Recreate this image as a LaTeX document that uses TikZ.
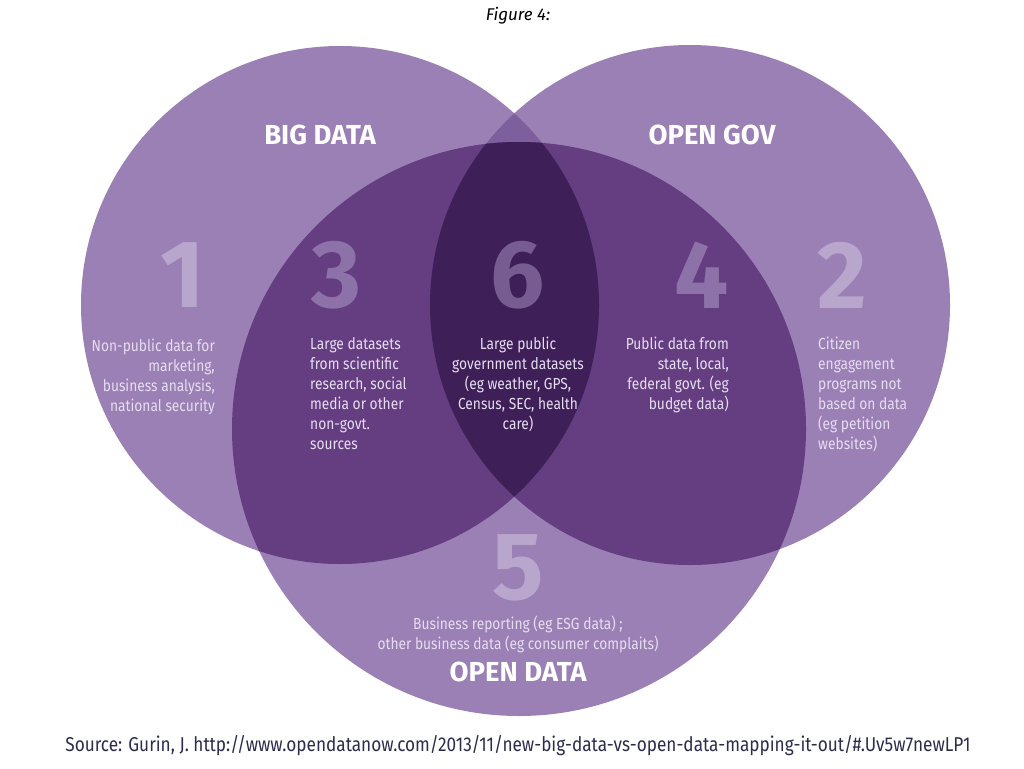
\documentclass[tikz,border=0pt]{standalone}
\usepackage{fontspec}
\usepackage{xcolor}
\usepackage{tikz}
\usetikzlibrary{positioning}
\setmainfont{Fira Sans}
\newfontfamily\condfont{Fira Sans}[FakeStretch=0.86]

\definecolor{vennbase}{HTML}{9B80B5}
\definecolor{vennlens}{HTML}{7E5F9D}
\definecolor{venndouble}{HTML}{643E80}
\definecolor{venntriple}{HTML}{3E1F58}
\definecolor{numlight}{HTML}{B9A6CD}
\definecolor{nummid}{HTML}{8D72A9}
\definecolor{numdark}{HTML}{765C90}
\definecolor{blurbtext}{HTML}{E6DDF0}
\definecolor{sourcetext}{HTML}{2E2C4E}

\tikzset{
  bignum/.style={inner sep=0pt, font=\fontsize{96}{96}\selectfont\bfseries},
  circletitle/.style={text=white, inner sep=0pt, font=\fontsize{27.5}{27.5}\selectfont\bfseries},
  blurb/.style={text=blurbtext, inner sep=0pt, font=\condfont\fontsize{16}{20}\selectfont}
}

\begin{document}
\begin{tikzpicture}[x=1pt, y=-1pt]
  \useasboundingbox[fill=white] (0,0) rectangle (1024,768);
  \coordinate (bigc) at (340,305);
  \coordinate (govc) at (690,305);
  \coordinate (openc) at (519,429);

  \fill[vennbase] (bigc) circle (259pt);
  \fill[vennbase] (govc) circle (260pt);
  \fill[vennbase] (openc) circle (287pt);
  \begin{scope}
    \clip (bigc) circle (259pt);
    \fill[vennlens] (govc) circle (260pt);
  \end{scope}
  \begin{scope}
    \clip (openc) circle (287pt);
    \fill[venndouble] (bigc) circle (259pt);
    \fill[venndouble] (govc) circle (260pt);
    \clip (bigc) circle (259pt);
    \fill[venntriple] (govc) circle (260pt);
  \end{scope}

  \node[font=\fontsize{17}{17}\selectfont\itshape] (fig) at (518,16) {Figure 4:};

  \node[circletitle] (bigtitle) at (320,135) {BIG DATA};
  \node[circletitle] (govtitle) at (712,135) {OPEN GOV};
  \node[circletitle] (opentitle) at (518,672) {OPEN DATA};

  \node[bignum, text=numlight] (n1) at (183,275) {1};
  \node[bignum, text=nummid] (n3) at (336,275) {3};
  \node[bignum, text=numdark] (n6) at (518,275) {6};
  \node[bignum, text=nummid] (n4) at (702,275) {4};
  \node[bignum, text=numlight] (n2) at (842,275) {2};
  \node[bignum, text=numlight] (n5) at (518,568) {5};

  \node[blurb, anchor=north east, align=right] (t1) at (215,339)
    {Non-public data for\\marketing,\\business analysis,\\national security};
  \node[blurb, anchor=north west, align=left] (t3) at (310,337)
    {Large datasets\\from scientific\\research, social\\media or other\\non-govt.\\sources};
  \node[blurb, anchor=north, align=center] (t6) at (518,337)
    {Large public\\government datasets\\(eg weather, GPS,\\Census, SEC, health\\care)};
  \node[blurb, anchor=north east, align=right] (t4) at (729,337)
    {Public data from\\state, local,\\federal govt. (eg\\budget data)};
  \node[blurb, anchor=north west, align=left] (t2) at (818,337)
    {Citizen\\engagement\\programs not\\based on data\\(eg petition\\websites)};
  \node[blurb, anchor=north, align=center] (t5) at (518,616)
    {Business reporting (eg ESG data) ;\\other business data (eg consumer complaits)};

  \node[text=sourcetext, font=\condfont\fontsize{20}{20}\selectfont] (src) at (518,746)
    {Source: Gurin, J. http://www.opendatanow.com/2013/11/new-big-data-vs-open-data-mapping-it-out/\#.Uv5w7newLP1};
\end{tikzpicture}
\end{document}
